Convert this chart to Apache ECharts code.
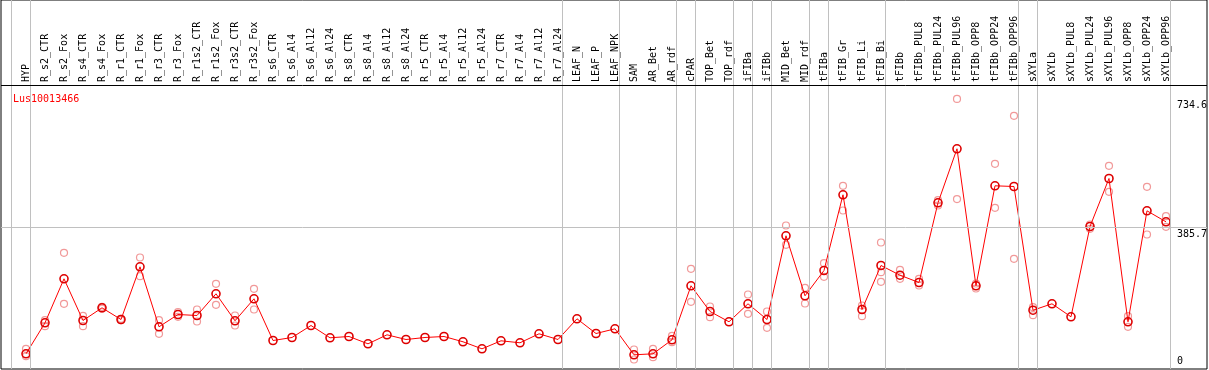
<!DOCTYPE html>
<html>
<head>
<meta charset="utf-8">
<script src="https://cdn.jsdelivr.net/npm/echarts@6/dist/echarts.min.js"></script>
<style>
html,body{margin:0;padding:0;background:#fff;}
#chart{width:1209px;height:370px;}
</style>
</head>
<body>
<div id="chart"></div>
<script>
// ---- data ----
const geneName = 'Lus10013466';
const categories = ['HYP','R_s2_CTR','R_s2_Fox','R_s4_CTR','R_s4_Fox','R_r1_CTR','R_r1_Fox','R_r3_CTR','R_r3_Fox','R_r1s2_CTR','R_r1s2_Fox','R_r3s2_CTR','R_r3s2_Fox','R_s6_CTR','R_s6_Al4','R_s6_Al12','R_s6_Al24','R_s8_CTR','R_s8_Al4','R_s8_Al12','R_s8_Al24','R_r5_CTR','R_r5_Al4','R_r5_Al12','R_r5_Al24','R_r7_CTR','R_r7_Al4','R_r7_Al12','R_r7_Al24','LEAF_N','LEAF_P','LEAF_NPK','SAM','AR_Bet','AR_rdf','cPAR','TOP_Bet','TOP_rdf','iFIBa','iFIBb','MID_Bet','MID_rdf','tFIBa','tFIB_Gr','tFIB_Li','tFIB_Bi','tFIBb','tFIBb_PUL8','tFIBb_PUL24','tFIBb_PUL96','tFIBb_OPP8','tFIBb_OPP24','tFIBb_OPP96','sXYLa','sXYLb','sXYLb_PUL8','sXYLb_PUL24','sXYLb_PUL96','sXYLb_OPP8','sXYLb_OPP24','sXYLb_OPP96'];
const means = [41.3,125.6,245.3,131.9,166.4,134.6,277.9,114.8,148.2,145.5,204.5,131.1,190.9,77.5,85.7,118.3,84.9,88.4,68.5,93.0,80.2,85.7,88.4,74.0,54.9,76.7,71.3,95.7,80.2,136.5,96.5,109.3,38.6,41.3,79.4,226.3,156.4,128.4,177.3,134.6,362.3,199.1,267.9,473.8,161.8,281.5,255.1,235.2,452.0,598.9,226.3,498.2,496.3,159.9,177.3,142.0,387.5,518.1,128.4,430.2,400.3];
const rep1 = [54.9,132.7,316.0,144.7,164,136.5,303.2,132.7,154.5,161.8,231.7,145.5,218.1,null,null,null,null,null,null,null,null,null,null,null,null,null,null,null,null,null,null,null,53.0,54.9,90.3,272.5,170.0,null,202.6,156.4,390.3,220.8,287.7,498.2,172.7,344.0,269.8,245.3,459.1,734.6,232.5,558.1,688.6,168.1,null,null,393.0,552.6,143.6,495.5,415.6];
const rep2 = [34.8,116.4,177.3,116.4,169,132.7,252.4,95.7,142.0,129.2,174.6,118.3,161.8,null,null,null,null,null,null,null,null,null,null,null,null,null,null,null,null,null,null,null,25.8,32.1,72.9,182.8,140.9,null,150.1,112.0,337.8,178.1,250.7,431.1,143.6,263.3,245.3,227.1,444.7,462.0,218.9,438.4,299.7,146.3,null,null,381.3,481.9,114.8,365.8,386.7];
const rep3 = [null,null,null,null,null,null,null,null,null,null,null,null,null,null,null,null,null,null,null,null,null,null,null,null,null,null,null,null,null,null,null,null,null,null,null,null,null,null,null,null,null,null,null,null,null,237.1,null,null,null,null,null,null,null,null,null,null,null,null,null,null,null];
// group separators are drawn after these category indices
const separatorsAfter = [-1,0,28,31,34,35,37,38,39,41,42,45,52,53,60];
const tickValues = [0, 385.7, 734.6];
const gridLineValue = 385.7;

// ---- layout ----
const PX_PER_UNIT = 0.3677;
const PLOT_BOTTOM = 369;
const Y_MAX = PLOT_BOTTOM / PX_PER_UNIT;
const HEADER_Y = (PLOT_BOTTOM - 85) / PX_PER_UNIT;
const X_MIN = -1.316, X_MAX = 62.158;
const MONO = 'DejaVu Sans Mono';

const meanData = means.map((v, i) => [i, v]);
const repData = [];
[rep1, rep2, rep3].forEach(arr => arr.forEach((v, i) => { if (v != null) repData.push([i, v]); }));

const sepLines = separatorsAfter.map(b => ({ xAxis: b + 0.24 }));

const chart = echarts.init(document.getElementById('chart'), null, { renderer: 'canvas' });
chart.setOption({
  animation: false,
  backgroundColor: '#fff',
  title: {
    text: geneName, left: 8, top: 89,
    textStyle: { color: '#ff0000', fontSize: 10, fontWeight: 'normal', fontFamily: MONO }
  },
  grid: [
    { left: 1, right: 2, top: 0, bottom: 370 - PLOT_BOTTOM, show: true, borderColor: '#000', borderWidth: 1, backgroundColor: 'transparent' },
    { left: 16.5, right: 33.5, top: 0, height: 85 },
    { left: 1177, right: 2, top: 0, bottom: 370 - PLOT_BOTTOM }
  ],
  xAxis: [
    { type: 'value', gridIndex: 0, min: X_MIN, max: X_MAX, show: false },
    { type: 'category', gridIndex: 1, data: categories, boundaryGap: true, position: 'bottom',
      axisLine: { show: false }, axisTick: { show: false }, splitLine: { show: false },
      axisLabel: { inside: true, rotate: 90, interval: 0, margin: 3, color: '#000', fontSize: 10, fontFamily: MONO } },
    { type: 'value', gridIndex: 2, show: false }
  ],
  yAxis: [
    { type: 'value', gridIndex: 0, min: 0, max: Y_MAX, show: false },
    { type: 'value', gridIndex: 1, show: false },
    { type: 'value', gridIndex: 2, min: 0, max: Y_MAX, position: 'left',
      axisLine: { show: false }, axisTick: { show: false }, splitLine: { show: false },
      axisLabel: { inside: true, margin: 0, customValues: tickValues.filter(v => v > 0), verticalAlign: 'top',
        padding: [2, 0, 0, 0],
        color: '#000', fontSize: 10, fontFamily: MONO, formatter: v => String(v) } },
    { type: 'value', gridIndex: 2, min: 0, max: Y_MAX, position: 'left',
      axisLine: { show: false }, axisTick: { show: false }, splitLine: { show: false },
      axisLabel: { inside: true, margin: 0, customValues: tickValues.filter(v => v === 0), verticalAlign: 'bottom',
        padding: [0, 0, 3, 0],
        color: '#000', fontSize: 10, fontFamily: MONO, formatter: v => String(v) } }
  ],
  series: [
    { type: 'line', xAxisIndex: 0, yAxisIndex: 0, data: [], z: 1, silent: true,
      markLine: { silent: true, symbol: 'none', label: { show: false }, animation: false,
        lineStyle: { color: '#c0c0c0', type: 'solid', width: 1 },
        data: sepLines.concat([{ yAxis: gridLineValue }]) } },
    { type: 'line', xAxisIndex: 0, yAxisIndex: 0, data: [], z: 2, silent: true,
      markLine: { silent: true, symbol: 'none', label: { show: false }, animation: false,
        lineStyle: { color: '#000', type: 'solid', width: 1 },
        data: [{ yAxis: HEADER_Y }] } },
    { type: 'scatter', xAxisIndex: 0, yAxisIndex: 0, data: repData, z: 3, silent: true,
      symbol: 'circle', symbolSize: 7,
      itemStyle: { color: 'rgba(255,255,255,0)', borderColor: '#ee8080', borderWidth: 1.2 } },
    { type: 'line', xAxisIndex: 0, yAxisIndex: 0, data: meanData, z: 4, silent: true,
      symbol: 'circle', symbolSize: 8, showAllSymbol: true,
      lineStyle: { color: '#ff0000', width: 1 },
      itemStyle: { color: 'rgba(255,255,255,0)', borderColor: '#dd0000', borderWidth: 1.6 } }
  ]
});
</script>
</body>
</html>
